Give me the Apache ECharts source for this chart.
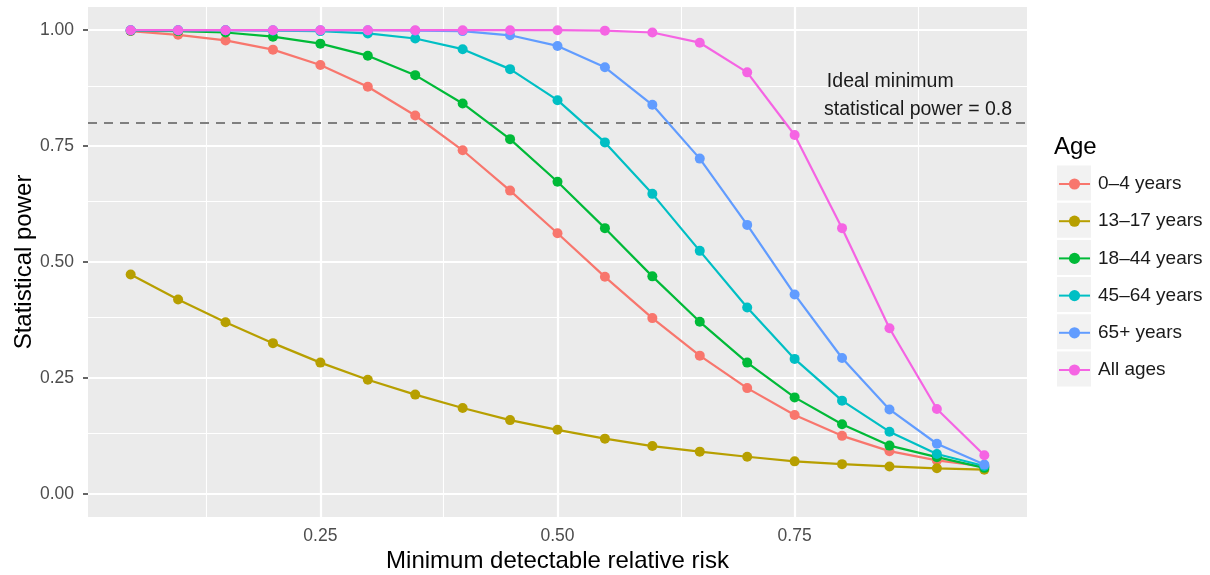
<!DOCTYPE html>
<html>
<head>
<meta charset="utf-8">
<script src="https://cdn.jsdelivr.net/npm/echarts@6/dist/echarts.min.js"></script>
<style>html,body{margin:0;padding:0;background:#fff;}#c{width:1210px;height:575px;}</style>
</head>
<body>
<div id="c"></div>
<script>
const xValues = [0.05,0.10,0.15,0.20,0.25,0.30,0.35,0.40,0.45,0.50,0.55,0.60,0.65,0.70,0.75,0.80,0.85,0.90,0.95];
const ageGroups = ['0\u20134 years','13\u201317 years','18\u201344 years','45\u201364 years','65+ years','All ages'];
const power0to4   = [0.998,0.990,0.978,0.958,0.925,0.878,0.816,0.741,0.654,0.562,0.468,0.379,0.298,0.228,0.170,0.125,0.092,0.072,0.059];
const power13to17 = [0.473,0.419,0.370,0.325,0.283,0.246,0.214,0.185,0.159,0.138,0.119,0.103,0.091,0.080,0.070,0.064,0.059,0.055,0.052];
const power18to44 = [0.999,0.998,0.995,0.986,0.971,0.945,0.903,0.842,0.765,0.673,0.573,0.469,0.371,0.283,0.208,0.150,0.104,0.079,0.056];
const power45to64 = [1.000,1.000,1.000,0.999,0.998,0.993,0.982,0.959,0.916,0.849,0.758,0.647,0.524,0.402,0.291,0.201,0.134,0.086,0.060];
const power65plus = [1.000,1.000,1.000,1.000,1.000,1.000,0.999,0.998,0.989,0.966,0.920,0.839,0.723,0.580,0.430,0.293,0.182,0.108,0.063];
const powerAll    = [1.000,1.000,1.000,1.000,1.000,1.000,1.000,1.000,1.000,1.000,0.999,0.995,0.973,0.909,0.774,0.573,0.357,0.183,0.083];
const xTicks = [0.25,0.50,0.75];
const xMinor = [0.125,0.375,0.625,0.875];
const yTicks = [0.00,0.25,0.50,0.75,1.00];
const yMinor = [0.125,0.375,0.625,0.875];
const thresholdValue = 0.8;
const annotationLines = ['Ideal minimum','statistical power = 0.8'];
const annotationPos = [[0.784,0.888],[0.781,0.828]];

const colors = ['#F8766D','#B79F00','#00BA38','#00BFC4','#619CFF','#F564E3'];
const allSeries = [power0to4,power13to17,power18to44,power45to64,power65plus,powerAll];
const FONT = 'Liberation Sans, Arial, Helvetica, sans-serif';

const chart = echarts.init(document.getElementById('c'), null, {renderer:'canvas'});

const gridLines = [];
xTicks.forEach(v=>gridLines.push({xAxis:v, lineStyle:{color:'#fff',width:2.2,type:'solid'}}));
xMinor.forEach(v=>gridLines.push({xAxis:v, lineStyle:{color:'#fff',width:1.1,type:'solid'}}));
yTicks.forEach(v=>gridLines.push({yAxis:v, lineStyle:{color:'#fff',width:2.2,type:'solid'}}));
yMinor.forEach(v=>gridLines.push({yAxis:v, lineStyle:{color:'#fff',width:1.1,type:'solid'}}));

const series = [{
  name:'grid', type:'line', data:[], z:1, silent:true,
  markLine:{silent:true, symbol:['none','none'], z:1, label:{show:false}, animation:false, emphasis:{disabled:true}, data:gridLines}
},{
  name:'threshold', type:'line', data:[], z:2, silent:true,
  markLine:{silent:true, symbol:['none','none'], z:2, label:{show:false}, animation:false, emphasis:{disabled:true},
    data:[{yAxis:thresholdValue, lineStyle:{color:'#7F7F7F', width:2, type:[9,7]}}]},
  markPoint:{silent:true, symbol:'circle', symbolSize:0, z:2, animation:false,
    data: annotationLines.map((t,i)=>({coord:annotationPos[i], value:t,
      label:{show:true, position:'right', distance:0, formatter:t, color:'#1a1a1a', fontSize:19.5, fontFamily:FONT}}))}
}];
ageGroups.forEach((name,i)=>{
  series.push({
    name:name, type:'line', z:3+i,
    data: xValues.map((x,j)=>[x, allSeries[i][j]]),
    symbol:'circle', symbolSize:10, showSymbol:true,
    itemStyle:{color:colors[i]},
    lineStyle:{color:colors[i], width:2.2},
    emphasis:{disabled:true},
    animation:false
  });
});

const legendFirst = 183, legendStep = 37.2, legendFont = 19;
const keyRects = ageGroups.map((n,i)=>({
  type:'rect', left:1057, top: legendFirst - 17.5 + i*legendStep, z:-1,
  shape:{width:34, height:35}, style:{fill:'#F2F2F2'}
}));

chart.setOption({
  animation:false,
  backgroundColor:'#fff',
  textStyle:{fontFamily:FONT},
  grid:{left:88, top:7, right:183, bottom:58, show:true, backgroundColor:'#EBEBEB', borderWidth:0, containLabel:false, outerBoundsMode:'none'},
  title:{text:'Age', left:1054, top:135, padding:0, textStyle:{fontSize:24, fontWeight:'normal', color:'#000', fontFamily:FONT}},
  legend:{
    data:ageGroups, orient:'vertical', left:1058, top:legendFirst - legendFont/2 + 1, padding:0,
    itemWidth:31, itemHeight:14, itemGap:legendStep-legendFont,
    textStyle:{fontSize:legendFont, color:'#1a1a1a', fontFamily:FONT, padding:[0,0,0,3]},
    selectedMode:false
  },
  graphic: keyRects,
  xAxis:{
    type:'value', min:0.005, max:0.995,
    name:'Minimum detectable relative risk', nameLocation:'middle', nameGap:32, nameMoveOverlap:false,
    nameTextStyle:{fontSize:24, color:'#000', fontFamily:FONT},
    axisLine:{show:false},
    axisTick:{show:true, length:5, customValues:xTicks, lineStyle:{color:'#333', width:1.5}},
    axisLabel:{customValues:xTicks, margin:10, fontSize:17.5, color:'#4D4D4D', fontFamily:FONT, formatter:v=>v.toFixed(2)},
    splitLine:{show:false}, minorSplitLine:{show:false}
  },
  yAxis:{
    type:'value', min:-0.05, max:1.05,
    name:'Statistical power', nameLocation:'middle', nameGap:52, nameRotate:90, nameMoveOverlap:false,
    nameTextStyle:{fontSize:24, color:'#000', fontFamily:FONT},
    axisLine:{show:false},
    axisTick:{show:true, length:5, customValues:yTicks, lineStyle:{color:'#333', width:1.5}},
    axisLabel:{customValues:yTicks, margin:14, fontSize:17.5, color:'#4D4D4D', fontFamily:FONT, formatter:v=>v.toFixed(2)},
    splitLine:{show:false}
  },
  series:series
});
</script>
</body>
</html>
